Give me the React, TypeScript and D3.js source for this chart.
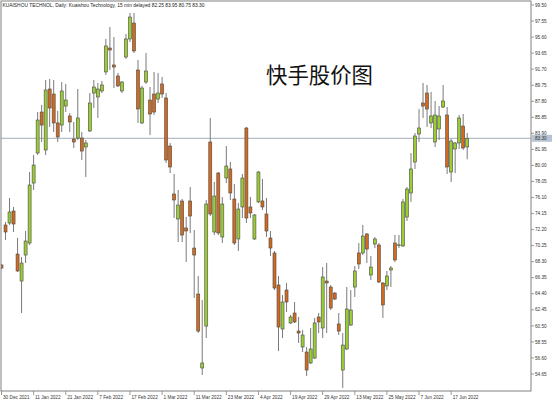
import React from "react";
import * as d3 from "d3";

const opens = [
  67.90, 72.76, 73.00, 74.46, 69.23, 65.95, 69.11, 70.57, 77.86, 81.51,
  86.49, 81.88, 89.29, 88.68, 85.16, 84.91, 87.22, 86.01, 83.21, 83.33,
  83.33, 82.24, 84.19, 88.80, 88.32, 89.05, 91.36, 94.27, 92.21, 90.87,
  89.05, 93.18, 95.37, 97.31, 91.60, 85.16, 90.14, 87.95, 88.68, 88.07,
  89.90, 88.20, 82.36, 76.53, 73.49, 75.68, 72.40, 75.68, 69.96, 64.37,
  55.38, 60.48, 82.85, 71.91, 79.08, 71.30, 78.47, 79.57, 75.92, 71.06,
  74.95, 84.55, 74.95, 71.06, 75.56, 75.68, 74.10, 71.18, 69.36, 65.47,
  60.12, 64.86, 60.85, 62.06, 59.87, 57.93, 57.32, 55.99, 56.59, 61.58,
  60.24, 65.95, 65.22, 64.49, 60.73, 55.13, 57.69, 60.60, 65.22, 69.36,
  69.36, 71.67, 66.68, 70.45, 70.33, 65.71, 65.35, 67.29, 70.57, 70.30,
  70.21, 73.73, 76.65, 80.42, 83.82, 87.59, 88.80, 85.16, 82.85, 84.43,
  87.10, 86.13, 79.20, 82.00, 82.73, 84.79, 82.25,
];

const highs = [
  68.02, 73.12, 76.04, 74.95, 71.18, 68.87, 72.03, 79.20, 81.27, 86.49,
  87.35, 90.38, 90.51, 90.38, 86.62, 90.14, 89.90, 86.37, 85.28, 89.29,
  84.06, 83.09, 88.80, 90.38, 90.02, 90.26, 95.37, 96.83, 95.61, 91.24,
  90.26, 95.98, 98.53, 98.53, 92.82, 89.66, 93.67, 89.53, 91.36, 91.24,
  90.75, 88.80, 82.73, 78.96, 77.01, 75.92, 73.73, 77.38, 72.15, 66.56,
  63.64, 75.80, 85.77, 77.99, 79.20, 76.16, 82.36, 80.42, 77.74, 75.43,
  78.96, 84.67, 76.16, 74.10, 79.32, 78.35, 76.04, 72.03, 69.60, 66.56,
  64.25, 65.71, 61.82, 63.40, 61.58, 60.00, 57.93, 60.24, 61.46, 62.06,
  67.65, 68.14, 65.47, 64.61, 62.06, 59.63, 65.22, 64.86, 67.78, 70.57,
  72.76, 71.79, 68.99, 71.30, 70.57, 65.83, 67.17, 67.78, 71.54, 71.54,
  75.92, 77.38, 81.51, 83.94, 86.86, 90.02, 89.78, 88.93, 87.83, 87.22,
  89.78, 87.10, 83.21, 82.85, 86.13, 86.25, 83.95,
];

const lows = [
  67.41, 70.94, 72.76, 71.91, 67.05, 62.06, 68.14, 70.33, 77.01, 81.27,
  82.85, 81.27, 84.67, 84.06, 82.85, 84.06, 86.49, 84.06, 82.12, 83.09,
  80.66, 78.59, 84.06, 86.98, 85.77, 88.80, 90.99, 91.60, 89.41, 89.53,
  88.80, 92.94, 95.00, 93.67, 85.16, 85.04, 89.90, 83.70, 86.13, 87.59,
  88.20, 80.30, 79.08, 73.61, 70.69, 70.69, 68.26, 71.79, 63.89, 59.63,
  54.53, 59.02, 73.85, 71.54, 71.54, 70.57, 77.86, 75.80, 70.33, 69.60,
  73.61, 73.00, 73.61, 70.94, 75.43, 74.58, 71.30, 68.99, 64.86, 57.44,
  59.02, 62.18, 60.72, 60.85, 58.42, 57.32, 54.41, 55.86, 56.47, 59.63,
  59.02, 59.63, 62.43, 63.64, 59.39, 52.95, 57.57, 60.48, 64.01, 67.41,
  69.11, 68.14, 66.07, 69.96, 65.71, 61.46, 64.86, 65.22, 68.26, 69.96,
  70.09, 73.25, 75.56, 79.57, 82.85, 85.77, 84.67, 84.55, 82.24, 83.09,
  86.98, 78.96, 77.99, 79.08, 82.00, 81.88, 80.75,
];

const closes = [
  67.53, 71.91, 74.34, 72.88, 67.17, 68.14, 70.81, 77.62, 80.05, 85.52,
  84.91, 89.17, 86.98, 85.16, 83.46, 89.05, 87.95, 85.28, 82.85, 85.77,
  81.75, 82.73, 87.59, 89.53, 89.29, 89.78, 94.52, 94.03, 91.96, 89.66,
  90.14, 95.37, 98.04, 93.91, 86.86, 89.41, 91.48, 86.25, 86.49, 88.80,
  88.68, 80.66, 79.81, 75.80, 75.19, 71.54, 72.03, 73.85, 69.11, 59.87,
  55.99, 75.31, 74.10, 76.28, 71.79, 75.31, 79.93, 76.65, 70.57, 74.70,
  78.47, 73.61, 74.22, 73.98, 79.20, 74.95, 72.03, 69.96, 65.10, 60.36,
  63.40, 63.40, 61.58, 60.97, 59.63, 59.39, 55.13, 57.69, 60.85, 60.97,
  66.44, 65.71, 62.67, 63.76, 59.87, 58.17, 62.55, 62.43, 67.17, 68.02,
  71.42, 69.84, 67.65, 71.06, 65.83, 63.04, 66.56, 67.53, 68.51, 70.35,
  75.56, 77.13, 79.57, 83.58, 84.55, 87.22, 86.86, 86.01, 86.13, 86.01,
  87.83, 79.81, 82.97, 82.73, 85.77, 82.12, 83.30,
];

const yTickValues = [
  99.5, 97.55, 95.6, 93.65, 91.7, 89.75, 87.8, 85.85, 83.9, 81.95, 80.0, 78.05,
  76.1, 74.15, 72.2, 70.25, 68.3, 66.35, 64.4, 62.45, 60.5, 58.55, 56.6, 54.65,
];

const xTickIndex = [0, 8, 16, 24, 32, 40, 48, 56, 64, 72, 80, 88, 96, 104, 112];
const xTickLabels = [
  "30 Dec 2021", "11 Jan 2022", "21 Jan 2022", "7 Feb 2022", "17 Feb 2022",
  "1 Mar 2022", "11 Mar 2022", "23 Mar 2022", "4 Apr 2022", "19 Apr 2022",
  "29 Apr 2022", "13 May 2022", "25 May 2022", "7 Jun 2022", "17 Jun 2022",
];

const lastPrice = 83.3;
const titleText =
  "KUAISHOU TECHNOL, Daily:  Kuaishou Technology, 15 min delayed  82.25 83.95 80.75 83.30";
const chartTitle = "快手股价图";

const W = 553;
const H = 402;
const plotLeft = 1;
const plotTop = 1;
const plotRight = 531;
const plotBottom = 391;

export default function App() {
  const n = opens.length;
  const x = d3.scaleLinear().domain([0, n - 1]).range([1.5, 467.2]);
  const y = d3.scaleLinear().domain([54.65, 99.5]).range([374, 5]);
  const bodyW = 3;
  const font = "'Liberation Sans', Arial, sans-serif";
  const bull = "#9ACD32";
  const bear = "#D2691E";
  const outline = "#4a4a4a";
  const wick = "#7a7a7a";

  const candles = d3.range(n).map((i) => {
    const o = opens[i];
    const c = closes[i];
    const up = c >= o;
    const cx = x(i);
    const top = y(Math.max(o, c));
    const bot = y(Math.min(o, c));
    return (
      <g key={i}>
        <line x1={cx} x2={cx} y1={y(highs[i])} y2={y(lows[i])} stroke={wick} strokeWidth={1} />
        <rect
          x={cx - bodyW / 2}
          y={top}
          width={bodyW}
          height={Math.max(bot - top, 0.8)}
          fill={up ? bull : bear}
          stroke={outline}
          strokeWidth={0.6}
        />
      </g>
    );
  });

  return (
    <svg
      width={W}
      height={H}
      style={{ position: "absolute", left: 0, top: 0, background: "#fff" }}
    >
      <rect x={0} y={0} width={W} height={H} fill="#fff" />
      <defs>
        <clipPath id="plot">
          <rect x={plotLeft} y={plotTop} width={plotRight - plotLeft} height={plotBottom - plotTop} />
        </clipPath>
      </defs>
      {/* current price line */}
      <line
        x1={plotLeft}
        x2={plotRight}
        y1={y(lastPrice)}
        y2={y(lastPrice)}
        stroke="#a3adb8"
        strokeWidth={1}
      />
      <g clipPath="url(#plot)">{candles}</g>
      {/* frame */}
      <rect
        x={plotLeft}
        y={plotTop}
        width={plotRight - plotLeft}
        height={plotBottom - plotTop}
        fill="none"
        stroke="#808080"
        strokeWidth={1}
      />
      {/* y axis */}
      {yTickValues.map((v) => (
        <g key={v}>
          <line x1={plotRight} x2={plotRight + 3} y1={y(v)} y2={y(v)} stroke="#808080" strokeWidth={0.8} />
          <text
            x={plotRight + 4}
            y={y(v)}
            dy="0.35em"
            fontSize={4.7}
            fontFamily={font}
            fill="#333"
          >
            {v.toFixed(2)}
          </text>
        </g>
      ))}
      {/* last price label */}
      <rect x={plotRight + 1} y={y(lastPrice) - 3.5} width={20} height={7} fill="#b7c4d3" />
      <text
        x={plotRight + 4}
        y={y(lastPrice)}
        dy="0.35em"
        fontSize={4.7}
        fontFamily={font}
        fill="#333"
      >
        {lastPrice.toFixed(2)}
      </text>
      {/* x axis */}
      {xTickIndex.map((idx, k) => (
        <g key={idx}>
          <line x1={x(idx)} x2={x(idx)} y1={plotBottom} y2={plotBottom + 4} stroke="#808080" strokeWidth={0.8} />
          <text x={x(idx) + 1.5} y={398.5} fontSize={4.7} fontFamily={font} fill="#333">
            {xTickLabels[k]}
          </text>
        </g>
      ))}
      {/* header */}
      <text x={2.5} y={6.6} fontSize={4.7} fontFamily={font} fill="#222" textLength={202} lengthAdjust="spacingAndGlyphs">
        {titleText}
      </text>
      <text
        x={266}
        y={83}
        fontSize={21.5}
        fontFamily="'Noto Sans CJK SC', sans-serif"
        fill="#111"
        textLength={107}
        lengthAdjust="spacingAndGlyphs"
      >
        {chartTitle}
      </text>
    </svg>
  );
}
